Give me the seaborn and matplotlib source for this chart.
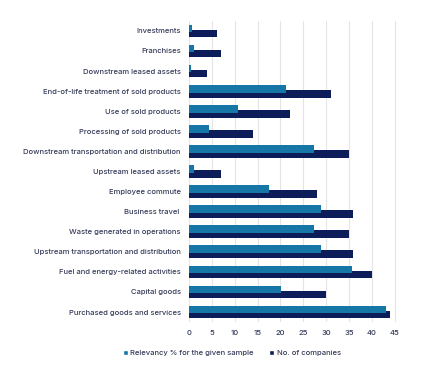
import pandas as pd
import matplotlib.pyplot as plt
import seaborn as sns

# data
categories = [
    'Investments', 'Franchises', 'Downstream leased assets',
    'End-of-life treatment of sold products', 'Use of sold products',
    'Processing of sold products', 'Downstream transportation and distribution',
    'Upstream leased assets', 'Employee commute', 'Business travel ',
    'Waste generated in operations', 'Upstream transportation and distribution',
    'Fuel and energy-related activities', 'Capital goods',
    'Purchased goods and services',
]
relevancy = [0.7, 1.1, 0.4, 21.3, 10.8, 4.3, 27.3, 1.1, 17.4, 28.8, 27.3, 28.8, 35.6, 20.1, 43.2]
companies = [6, 7, 4, 31, 22, 14, 35, 7, 28, 36, 35, 36, 40, 30, 44]
series = ['Relevancy % for the given sample', 'No. of companies']
xticks = [0, 5, 10, 15, 20, 25, 30, 35, 40, 45]

light = '#1677a6'
dark = '#0c1d5a'
text_col = '#373c5a'

df = pd.DataFrame({
    'category': categories * 2,
    'value': relevancy + companies,
    'series': [series[0]] * len(categories) + [series[1]] * len(categories),
})

sns.set_style('white')
plt.rcParams['font.family'] = ['Inter', 'DejaVu Sans']
plt.rcParams['font.weight'] = 'medium'

fig = plt.figure(figsize=(4.27, 3.66), dpi=100)
ax = fig.add_axes([0.443, 0.120, 0.497, 0.823])

sns.barplot(data=df, y='category', x='value', hue='series', order=categories,
            hue_order=series, palette=[light, dark], width=0.77, dodge=True,
            saturation=1, orient='h', ax=ax, legend=True)

# pull the two bars together so they overlap a bit, light on top
n = len(categories)
for i, p in enumerate(ax.patches[:2 * n]):
    if i < n:
        p.set_y(p.get_y() + 0.0675)
        p.set_zorder(3)
    else:
        p.set_y(p.get_y() - 0.0675)
        p.set_zorder(2)
    p.set_edgecolor('none')

ax.set_xlim(0, 46.5)
ax.set_ylim(n - 0.5, -0.5)
ax.set_xticks(xticks)
ax.grid(axis='x', color='#e4e4e8', linewidth=0.8)
ax.set_axisbelow(True)
for s in ax.spines.values():
    s.set_visible(False)
ax.set_xlabel('')
ax.set_ylabel('')
ax.tick_params(axis='both', length=0, labelsize=5.5, colors=text_col, pad=6)

handles, labels = ax.get_legend_handles_labels()
ax.legend(handles, labels, loc='upper center', bbox_to_anchor=(0.2, -0.07),
          ncol=2, frameon=False, fontsize=5.5, handlelength=0.7, handleheight=0.7,
          handletextpad=0.3, columnspacing=2.0, labelcolor=text_col)

fig.savefig('out.png', dpi=100)
